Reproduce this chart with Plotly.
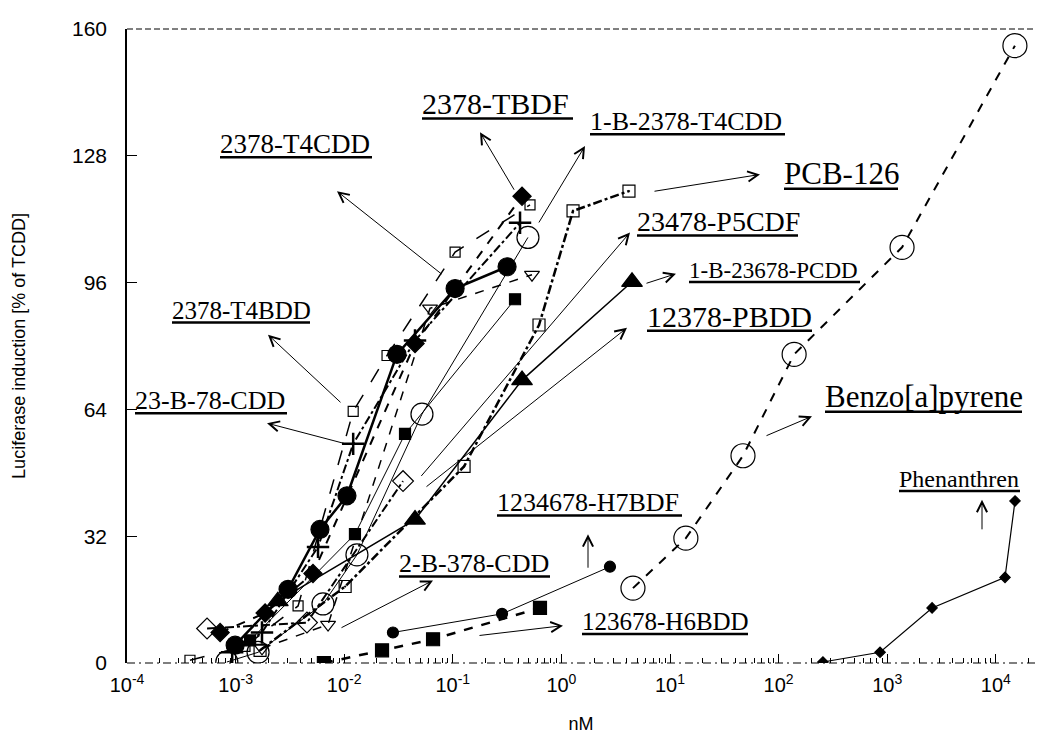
import plotly.graph_objects as go

# ---------------- data (nM, % of TCDD) ----------------
t4cdd_x = [0.00099, 0.00304, 0.00598, 0.0106, 0.0306, 0.105, 0.316]
t4cdd_y = [4.5, 18.6, 33.7, 42.2, 77.9, 94.5, 100.0]

tbdf_x = [0.00072, 0.00187, 0.00516, 0.0449, 0.434]
tbdf_y = [7.7, 12.6, 22.6, 80.6, 117.8]

t4bdd_x = [0.00038, 0.00122, 0.00376, 0.0121, 0.0248, 0.105, 0.514]
t4bdd_y = [0.7, 4.2, 14.4, 63.5, 77.6, 103.7, 115.6]

b2378_78_x = [0.00093, 0.00175, 0.00574, 0.0121, 0.0449, 0.416]
b2378_78_y = [2.7, 7.7, 29.3, 55.3, 81.4, 111.1]

b1_t4cdd_x = [0.00083, 0.00161, 0.00638, 0.0131, 0.052, 0.492]
b1_t4cdd_y = [0.25, 2.7, 14.9, 27.3, 62.8, 107.4]

b1_pcdd_x = [0.00245, 0.0449, 0.434, 4.47]
b1_pcdd_y = [15.6, 36.2, 71.4, 96.2]

p5cdf_x = [0.00136, 0.01256, 0.0363, 0.374]
p5cdf_y = [5.7, 32.5, 57.8, 91.8]

pbdd_x = [0.000546, 0.00454, 0.0348]
pbdd_y = [8.7, 10.2, 45.9]

b2_378_x = [0.00175, 0.0071, 0.0617, 0.536]
b2_378_y = [3.7, 9.7, 89.5, 98.0]

pcb_x = [0.00168, 0.0102, 0.127, 0.622, 1.28, 4.19]
pcb_y = [3.2, 19.3, 49.6, 85.3, 114.1, 119.1]

h7bdf_x = [0.0281, 0.284, 2.80]
h7bdf_y = [7.7, 12.4, 24.3]

h6bdd_x = [0.0065, 0.0223, 0.0658, 0.635]
h6bdd_y = [0.0, 3.2, 6.0, 13.9]

bap_x = [4.56, 14.0, 47.0, 139.0, 1370.0, 15000.0]
bap_y = [18.9, 31.5, 52.3, 77.9, 104.9, 155.8]

phen_x = [256.0, 859.0, 2590.0, 12160.0, 15030.0]
phen_y = [0.25, 2.7, 13.9, 21.6, 40.9]

x_tick_vals = [1e-4, 1e-3, 1e-2, 1e-1, 1e0, 1e1, 1e2, 1e3, 1e4]
x_tick_text = ["10<sup>-4</sup>", "10<sup>-3</sup>", "10<sup>-2</sup>", "10<sup>-1</sup>",
               "10<sup>0</sup>", "10<sup>1</sup>", "10<sup>2</sup>", "10<sup>3</sup>", "10<sup>4</sup>"]
y_tick_vals = [0, 32, 64, 96, 128, 160]

# ---------------- figure ----------------
OFF = 8                      # page body margin
W, H = 1044 - OFF, 741 - OFF
PL, PT, PR, PB = 127, 18, 1035, 663   # plot area in page pixels
PW, PH = PR - PL, PB - PT
L, T = PL - OFF, PT - OFF
R, B = W - L - PW, H - T - PH

fig = go.Figure()

def add(x, y, symbol, size, dash, lw, mlw=1.2):
    fig.add_trace(go.Scatter(
        x=x, y=y, mode="lines+markers",
        line=dict(color="black", width=lw, dash=dash),
        marker=dict(symbol=symbol, size=size, color="black",
                    line=dict(color="black", width=mlw)),
        showlegend=False, hoverinfo="skip"))

add(h6bdd_x, h6bdd_y, "square", 13, "dash", 2.5)
add(h7bdf_x, h7bdf_y, "circle", 11, "solid", 1)
add(bap_x, bap_y, "circle-open", 24, "dash", 2)
add(phen_x, phen_y, "diamond", 8, "solid", 1.2)
add(pcb_x, pcb_y, "square-open-dot", 12, "dashdot", 2.5)
add(pbdd_x, pbdd_y, "diamond-open", 16, "dashdot", 2)
add(b2_378_x, b2_378_y, "triangle-down-open", 13, "dash", 1.5)
add(p5cdf_x, p5cdf_y, "square", 11, "solid", 1)
add(b1_pcdd_x, b1_pcdd_y, "triangle-up", 18, "solid", 1.5)
add(b1_t4cdd_x, b1_t4cdd_y, "circle-open", 22, "solid", 1)
add(b2378_78_x, b2378_78_y, "cross-thin", 16, "dashdot", 2, mlw=2.5)
add(t4bdd_x, t4bdd_y, "square-open", 10, "longdash", 1.5)
add(tbdf_x, tbdf_y, "diamond", 14, "dash", 2)
add(t4cdd_x, t4cdd_y, "circle", 18, "solid", 2.5)

def px(xp):
    return (xp - PL) / PW

def py(yp):
    return (PB - yp) / PH

# text, left x, centre y, right x of underline, font size (page pixels)
labels = [
    ("2378-TBDF", 420, 94, 573, 30),
    ("1-B-2378-T4CDD", 588, 112, 785, 26),
    ("PCB-126", 782, 165, 898, 31),
    ("2378-T4CDD", 218, 135, 372, 27),
    ("23478-P5CDF", 635, 214, 798, 28),
    ("1-B-23678-PCDD", 687, 264, 860, 23),
    ("2378-T4BDD", 170, 304, 310, 25),
    ("12378-PBDD", 645, 310, 812, 30),
    ("23-B-78-CDD", 133, 396, 287, 26),
    ("Benzo[a]pyrene", 823, 392, 1022, 31),
    ("1234678-H7BDF", 495, 500, 682, 26),
    ("2-B-378-CDD", 397, 562, 550, 26),
    ("123678-H6BDD", 580, 621, 748, 25),
    ("Phenanthren", 897, 476, 1020, 24),
]
shapes = []
for txt, lx, cy, rx, fs in labels:
    fig.add_annotation(text=txt, xref="paper", yref="paper", x=px(lx), y=py(cy),
                       xanchor="left", yanchor="middle", showarrow=False,
                       font=dict(family="Liberation Serif", size=fs, color="black"))
    uy = cy + 0.5 * fs
    shapes.append(dict(type="line", xref="paper", yref="paper",
                       x0=px(lx + 2), x1=px(rx), y0=py(uy), y1=py(uy),
                       line=dict(color="black", width=2.5)))

arrows = [  # tail -> tip (page pixels)
    ((443, 267), (337, 183)),
    ((515, 182), (480, 123)),
    ((538, 215), (585, 137)),
    ((653, 183), (760, 166)),
    ((420, 470), (630, 225)),
    ((645, 277), (676, 267)),
    ((425, 482), (627, 322)),
    ((342, 398), (268, 329)),
    ((347, 440), (267, 419)),
    ((765, 432), (812, 412)),
    ((588, 567), (588, 532)),
    ((340, 627), (433, 579)),
    ((478, 635), (563, 625)),
    ((982, 528), (982, 497)),
]
for (tx, ty), (hx, hy) in arrows:
    fig.add_annotation(text="", xref="paper", yref="paper", x=px(hx), y=py(hy),
                       ax=tx - hx, ay=ty - hy, showarrow=True, arrowhead=5,
                       arrowsize=2, arrowwidth=1, arrowcolor="black", standoff=0)

shapes += [
    dict(type="line", xref="paper", yref="paper", x0=0, x1=1, y0=1, y1=1,
         line=dict(color="black", width=1, dash="6px,3px")),
    dict(type="line", xref="paper", yref="paper", x0=0, x1=1, y0=0, y1=0,
         line=dict(color="black", width=1.2, dash="8px,4px,2px,4px")),
]

minor_vals = [m * 10 ** e for e in range(-4, 5) for m in range(2, 10)]

fig.update_layout(
    width=W, height=H,
    margin=dict(l=L, r=R, t=T, b=B),
    paper_bgcolor="white", plot_bgcolor="white",
    font=dict(family="Liberation Sans", size=18, color="black"),
    xaxis=dict(type="log", range=[-4, -4 + PW / 108.6],
               tickvals=x_tick_vals, ticktext=x_tick_text,
               ticks="inside", ticklen=9, tickwidth=1, tickcolor="black",
               minor=dict(tickvals=minor_vals, ticks="inside", ticklen=5,
                          tickwidth=1, tickcolor="black"),
               showgrid=False, zeroline=False, showline=False,
               tickfont=dict(size=20), ticklabelstandoff=8,
               title=dict(text="nM", font=dict(size=18), standoff=22)),
    yaxis=dict(range=[0, 160], tickvals=y_tick_vals,
               ticks="inside", ticklen=10, tickwidth=1, tickcolor="black",
               showgrid=False, zeroline=False, showline=True,
               linecolor="black", linewidth=1.5,
               tickfont=dict(size=21), ticklabelstandoff=14,
               ticklabeloverflow="allow",
               title=dict(text="Luciferase induction [% of TCDD]",
                          font=dict(size=18), standoff=42)),
    shapes=shapes,
)

fig.write_html("out.html")
